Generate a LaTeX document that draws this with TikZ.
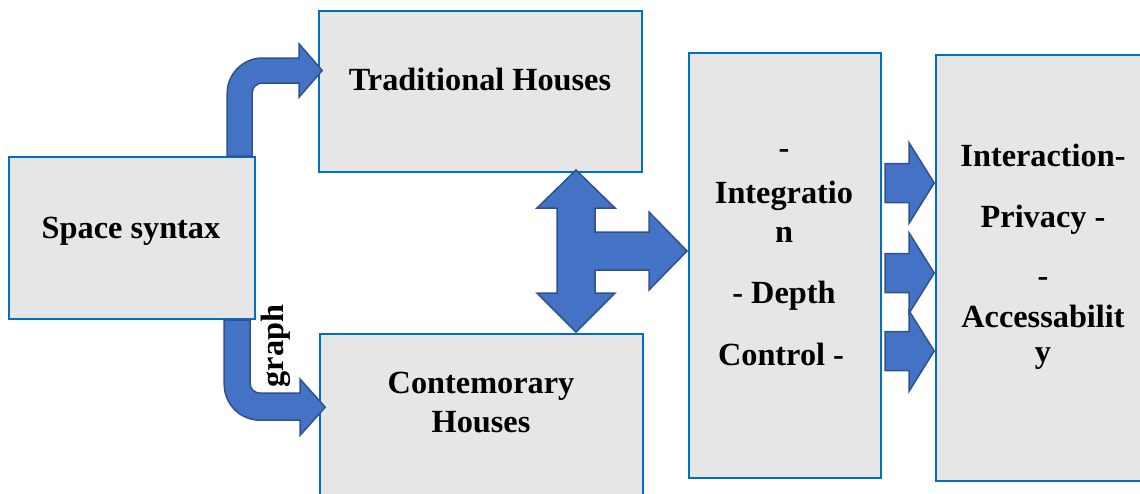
\documentclass[tikz,border=0pt]{standalone}
\usepackage{fontspec}
\setmainfont{Liberation Serif}
\usepackage{tikz}
\usetikzlibrary{calc}

\definecolor{boxfill}{HTML}{E6E6E6}
\definecolor{boxline}{HTML}{0070C0}
\definecolor{arrfill}{HTML}{4472C4}
\definecolor{arrline}{HTML}{2F528F}

\tikzset{
  box/.style={rectangle, draw=boxline, fill=boxfill, line width=2.2pt,
    anchor=north west, inner sep=0pt},
  blockarrow/.style={draw=arrline, fill=arrfill, line width=1.5pt, line join=miter},
  lbl/.style={anchor=base, inner sep=0pt, font=\bfseries\fontsize{32.3}{38}\selectfont}
}

\begin{document}
\begin{tikzpicture}[x=1pt, y=-1pt]
  \useasboundingbox (0,0) rectangle (1140,493);
  \clip (0,0) rectangle (1140,493);

  % boxes
  \node[box, minimum width=246pt, minimum height=162pt] (space) at (8,156) {};
  \node[box, minimum width=323pt, minimum height=161pt] (trad) at (318,10) {};
  \node[box, minimum width=323pt, minimum height=175pt] (cont) at (319,333) {};
  \node[box, minimum width=192pt, minimum height=425pt] (mid) at (688,52) {};
  \node[box, minimum width=216pt, minimum height=426pt] (res) at (935,54) {};

  % texts
  \foreach \n/\x/\y/\txt in {
    % left
    space-t/131/238/Space syntax,
    trad-t/480/90/Traditional Houses,
    cont-t1/481/393/Contemorary,
    cont-t2/481/432/Houses,
    % middle
    mid-t1/784/158/-,
    mid-t2/784/203/Integratio,
    mid-t3/784/242/n,
    mid-t4/784/303/- Depth,
    mid-t5/781/365/Control -,
    % right
    res-t1/1043/166/Interaction-,
    res-t2/1043/227/Privacy -,
    res-t3/1043/286/-,
    res-t4/1043/327/Accessabilit,
    res-t5/1043/362/y
  } { \node[lbl] (\n) at (\x,\y) {\txt}; }

  % bent arrow up
  \filldraw[blockarrow, shift={(space.north east)}]
    (-29,0) -- (-29,-63) .. controls (-29,-82) and (-13,-98) .. (6,-98)
    -- (43,-98) -- (43,-112) -- (66,-85.5) -- (43,-59) -- (43,-73)
    -- (6,-73) .. controls (0.5,-73) and (-4,-68.5) .. (-4,-63) -- (-4,0) -- cycle;

  % bent arrow down
  \filldraw[blockarrow, shift={(space.south east)}]
    (-32,0) -- (-32,64) .. controls (-32,84) and (-16,100) .. (4,100)
    -- (44,100) -- (44,115) -- (69,87) -- (44,59) -- (44,73)
    -- (4,73) .. controls (-1,73) and (-6,69) .. (-6,64) -- (-6,0) -- cycle;
  \node[lbl, rotate=90, anchor=center] (graph) at (276,346) {graph};

  % three-way arrow
  \coordinate (tee) at (576,251);
  \filldraw[blockarrow, shift={(tee)}]
    (0,-81) -- (39,-43) -- (19,-43) -- (19,-19) -- (73,-19) -- (73,-39)
    -- (111,0) -- (73,39) -- (73,19) -- (19,19) -- (19,42) -- (39,42)
    -- (0,81) -- (-39,42) -- (-19,42) -- (-19,-43) -- (-39,-43) -- cycle;

  % small arrows
  \foreach \y in {183,273,351}
    \filldraw[blockarrow, shift={(mid.east |- 0,\y)}]
      (3,-19.5) -- (27,-19.5) -- (27,-40) -- (52,0) -- (27,40)
      -- (27,19.5) -- (3,19.5) -- cycle;
\end{tikzpicture}
\end{document}
